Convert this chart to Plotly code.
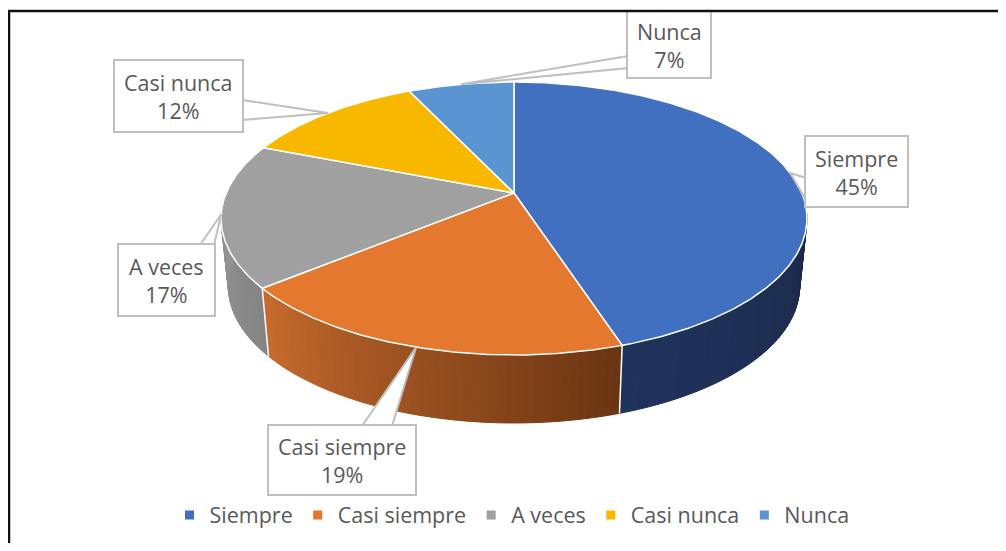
import numpy as np
import plotly.graph_objects as go

# ---------------- data ----------------
categories = ["Siempre", "Casi siempre", "A veces", "Casi nunca", "Nunca"]
percentages = [45, 19, 17, 12, 7]

top_colors = ["#4270C0", "#E5782F", "#A0A0A0", "#F9B800", "#5A95D2"]
side_right = ["#1B2848", "#693412", "#848484", "#8A6800", "#33587F"]
side_left = ["#20335C", "#C86B2D", "#959595", "#B08400", "#3F6E9D"]

# label boxes (x0, x1, y0, y1) in page pixels, and callout base points
label_boxes = [(805, 908, 136, 207), (268, 416, 425, 495), (118, 215, 244, 316),
               (114, 243, 60, 132), (627, 711, 11, 78)]
label_text_y = [172, 460, 280, 96, 45]
callout_bases = [((806, 178), (806, 200)), ((362, 426), (392, 426)),
                 ((200, 245), (214, 245)), ((242, 100), (242, 120)),
                 ((628, 56), (628, 68))]

# ---------------- geometry (style) ----------------
W, H = 1006, 551
OFF = 8  # page body margin
CX, CY = 514, 193
A_R, B_R, K_P = 287.8, 131.7, 0.187
DEPTH, BOT_SCALE = 68, 0.975
FONT = "Open Sans"
TXT = "#595959"
BORDER = "#BFBFBF"


def top_pt(tdeg):
    t = np.radians(tdeg)
    den = 1 + K_P * np.cos(t)
    return CX + A_R * np.sin(t) / den, CY - B_R * np.cos(t) / den


def bot_pt(tdeg):
    x, y = top_pt(tdeg)
    return CX + BOT_SCALE * (x - CX), y + DEPTH


def mix(c1, c2, f):
    a = [int(c1[i:i + 2], 16) for i in (1, 3, 5)]
    b = [int(c2[i:i + 2], 16) for i in (1, 3, 5)]
    return "#%02x%02x%02x" % tuple(int(round(a[j] + (b[j] - a[j]) * f)) for j in range(3))


angles = 360 * np.array(percentages, dtype=float) / sum(percentages)
ends = np.cumsum(angles)
starts = ends - angles

fig = go.Figure()

# ---- sides (front half only) ----
for i in range(len(categories)):
    a0, a1 = max(starts[i], 90.0), min(ends[i], 270.0)
    if a1 <= a0:
        continue
    n = max(2, int(np.ceil((a1 - a0) / 1.5)))
    edges = np.linspace(a0, a1, n + 1)
    for j in range(n):
        ts = np.linspace(edges[j], edges[j + 1], 4)
        xt, yt = top_pt(ts)
        xb, yb = bot_pt(ts[::-1])
        c = mix(side_right[i], side_left[i], (j + 0.5) / n)
        fig.add_trace(go.Scatter(x=list(xt) + list(xb) + [xt[0]], y=list(yt) + list(yb) + [yt[0]],
                                 fill="toself", fillcolor=c, mode="lines",
                                 line=dict(color=c, width=1), hoverinfo="skip", showlegend=False))

# white separators on the side
for b in list(starts):
    if 90 < b < 270:
        x0, y0 = top_pt(b)
        x1, y1 = bot_pt(b)
        fig.add_trace(go.Scatter(x=[x0, x1], y=[y0, y1], mode="lines",
                                 line=dict(color="white", width=1.5), hoverinfo="skip", showlegend=False))

# ---- top faces ----
for i, cat in enumerate(categories):
    ts = np.linspace(starts[i], ends[i], max(3, int(angles[i] * 2)))
    xs, ys = top_pt(ts)
    fig.add_trace(go.Scatter(x=[CX] + list(xs) + [CX], y=[CY] + list(ys) + [CY],
                             fill="toself", fillcolor=top_colors[i], mode="lines",
                             line=dict(color="white", width=1.5), name=cat,
                             hoverinfo="name", showlegend=False))

# ---- legend entries ----
for i, cat in enumerate(categories):
    fig.add_trace(go.Scatter(x=[None], y=[None], mode="markers", name=cat,
                             marker=dict(symbol="square", size=9, color=top_colors[i])))

# ---- callouts & labels ----
shapes = []
annotations = []
for i, cat in enumerate(categories):
    mid = (starts[i] + ends[i]) / 2
    tx, ty = top_pt(mid)
    (bx0, by0), (bx1, by1) = callout_bases[i]
    shapes.append(dict(type="path", xref="x", yref="y",
                       path=f"M {bx0},{by0} L {tx:.1f},{ty:.1f} L {bx1},{by1} Z",
                       fillcolor="white", line=dict(color=BORDER, width=2), layer="above"))
    x0, x1, y0, y1 = label_boxes[i]
    shapes.append(dict(type="rect", xref="x", yref="y", x0=x0, x1=x1, y0=y0, y1=y1,
                       fillcolor="white", line=dict(color=BORDER, width=2), layer="above"))
    annotations.append(dict(x=(x0 + x1) / 2, y=label_text_y[i], xref="x", yref="y",
                            text=f"{cat}<br>{percentages[i]}%", showarrow=False,
                            font=dict(family=FONT, size=21.5, color=TXT), align="center"))

# outer frame
shapes.append(dict(type="rect", xref="x", yref="y", x0=9, y0=11, x1=1015, y1=560,
                   line=dict(color="#111111", width=2.5), fillcolor="rgba(0,0,0,0)", layer="above"))

PW, PH = W - 2 * OFF, H - 2 * OFF
fig.update_layout(
    width=PW, height=PH, autosize=False,
    margin=dict(l=0, r=0, t=0, b=0),
    paper_bgcolor="white", plot_bgcolor="white",
    xaxis=dict(range=[OFF, OFF + PW], visible=False, fixedrange=True),
    yaxis=dict(range=[OFF + PH, OFF], visible=False, fixedrange=True),
    shapes=shapes, annotations=annotations,
    showlegend=True,
    legend=dict(orientation="h", x=(512 - OFF) / PW, xanchor="center",
                y=(OFF + PH - 515) / PH, yanchor="middle",
                font=dict(family=FONT, size=21.5, color=TXT), bgcolor="rgba(0,0,0,0)",
                itemclick=False, itemdoubleclick=False),
)

fig.write_html("out.html")
